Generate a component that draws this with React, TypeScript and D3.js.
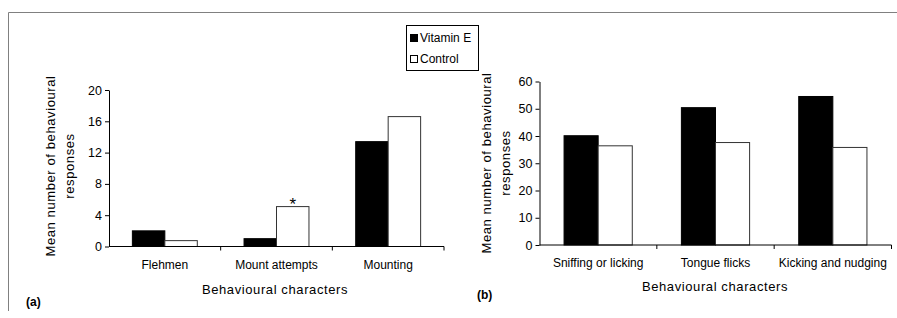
import { useEffect, useRef } from "react";
import * as d3 from "d3";

const seriesNames = ["Vitamin E", "Control"];
const categoriesA = ["Flehmen", "Mount attempts", "Mounting"];
const vitaminA = [2.0, 1.0, 13.4];
const controlA = [0.75, 5.1, 16.6];
const ticksA = [0, 4, 8, 12, 16, 20];

const categoriesB = ["Sniffing or licking", "Tongue flicks", "Kicking and nudging"];
const vitaminB = [40.1, 50.4, 54.5];
const controlB = [36.4, 37.6, 35.8];
const ticksB = [0, 10, 20, 30, 40, 50, 60];

type Panel = {
  cats: string[];
  vals: number[][];
  ticks: number[];
  x0: number;
  x1: number;
  yTop: number;
  yBottom: number;
  titleX: number;
  titleY: number;
  axisTitleX: number;
  axisTitleCy: number;
  label: string;
  labelX: number;
  labelY: number;
  catY: number;
};

const FONT = "'Liberation Sans', Arial, sans-serif";

export default function App() {
  const ref = useRef<SVGSVGElement>(null);

  useEffect(() => {
    document.body.style.margin = "0";
    const svg = d3.select(ref.current);
    svg.selectAll("*").remove();
    svg.attr("width", 897).attr("height", 318).style("background", "#fff");

    // frame (top + left)
    svg.append("path")
      .attr("d", "M8.5,311 V12.5 H897")
      .attr("fill", "none")
      .attr("stroke", "#808080")
      .attr("stroke-width", 1);

    const panels: Panel[] = [
      {
        cats: categoriesA, vals: [vitaminA, controlA], ticks: ticksA,
        x0: 109, x1: 444, yTop: 90, yBottom: 246.5,
        titleX: 275, titleY: 294, axisTitleX: 55, axisTitleCy: 166,
        label: "(a)", labelX: 26, labelY: 306, catY: 269,
      },
      {
        cats: categoriesB, vals: [vitaminB, controlB], ticks: ticksB,
        x0: 539.5, x1: 891.5, yTop: 81.5, yBottom: 245,
        titleX: 715, titleY: 291, axisTitleX: 491, axisTitleCy: 163,
        label: "(b)", labelX: 477, labelY: 299, catY: 267,
      },
    ];

    panels.forEach((p) => {
      const g = svg.append("g");
      const x = d3.scaleBand<string>().domain(p.cats).range([p.x0, p.x1]);
      const xs = d3.scaleBand<string>().domain(seriesNames).range([0, x.bandwidth()]).paddingOuter(0.72);
      const y = d3.scaleLinear().domain([0, d3.max(p.ticks)!]).range([p.yBottom, p.yTop]);

      // bars
      p.cats.forEach((c, i) => {
        seriesNames.forEach((s, j) => {
          const v = p.vals[j][i];
          g.append("rect")
            .attr("x", x(c)! + xs(s)!)
            .attr("y", y(v))
            .attr("width", xs.bandwidth())
            .attr("height", y(0) - y(v))
            .attr("fill", j === 0 ? "#000" : "#fff")
            .attr("stroke", j === 0 ? "#000" : "#333")
            .attr("stroke-width", 1);
        });
      });

      // y axis
      const yAxis = d3.axisLeft(y).tickValues(p.ticks).tickSize(4).tickSizeOuter(0).tickPadding(3);
      const ya = g.append("g").attr("transform", `translate(${p.x0},0)`).call(yAxis);
      ya.selectAll("text").style("font-family", FONT).style("font-size", "12.5px").attr("fill", "#000");
      ya.selectAll("line,path").attr("stroke", "#000");

      // x axis with ticks at band edges
      g.append("line")
        .attr("x1", p.x0).attr("x2", p.x1)
        .attr("y1", y(0)).attr("y2", y(0))
        .attr("stroke", "#000");
      const edges = p.cats.map((c) => x(c)! + x.bandwidth());
      edges.forEach((e) => {
        g.append("line")
          .attr("x1", e).attr("x2", e)
          .attr("y1", y(0)).attr("y2", y(0) + 4)
          .attr("stroke", "#000");
      });

      g.selectAll(".cat")
        .data(p.cats)
        .enter()
        .append("text")
        .attr("x", (c) => x(c)! + x.bandwidth() / 2)
        .attr("y", p.catY)
        .attr("text-anchor", "middle")
        .style("font-family", FONT)
        .style("font-size", "12px")
        .text((c) => c);

      g.append("text")
        .attr("x", p.titleX)
        .attr("y", p.titleY)
        .attr("text-anchor", "middle")
        .style("font-family", FONT)
        .style("font-size", "13px")
        .attr("letter-spacing", "0.6px")
        .text("Behavioural characters");

      const at = g.append("text")
        .attr("transform", `translate(${p.axisTitleX},${p.axisTitleCy}) rotate(-90)`)
        .attr("text-anchor", "middle")
        .style("font-family", FONT)
        .style("font-size", "13px")
        .attr("letter-spacing", "0.6px");
      at.append("tspan").attr("x", 0).attr("dy", 0).text("Mean number of behavioural");
      at.append("tspan").attr("x", 0).attr("dy", 19).text("responses");

      g.append("text")
        .attr("x", p.labelX)
        .attr("y", p.labelY)
        .style("font-family", FONT)
        .style("font-size", "12px")
        .style("font-weight", "bold")
        .text(p.label);
    });

    // asterisk over Mount attempts control
    {
      const x = d3.scaleBand<string>().domain(categoriesA).range([109, 444]);
      const xs = d3.scaleBand<string>().domain(seriesNames).range([0, x.bandwidth()]).paddingOuter(0.72);
      const y = d3.scaleLinear().domain([0, 20]).range([246.5, 90]);
      svg.append("text")
        .attr("x", x("Mount attempts")! + xs("Control")! + xs.bandwidth() / 2)
        .attr("y", y(controlA[1]) + 3)
        .attr("text-anchor", "middle")
        .style("font-family", FONT)
        .style("font-size", "17px")
        .text("*");
    }

    // legend
    const lg = svg.append("g").attr("transform", "translate(406,25)");
    lg.append("rect")
      .attr("x", 0.5).attr("y", 0.5)
      .attr("width", 72).attr("height", 45)
      .attr("fill", "#fff")
      .attr("stroke", "#000");
    seriesNames.forEach((s, i) => {
      const cy = 13 + i * 21;
      lg.append("rect")
        .attr("x", 4.5).attr("y", cy - 3.5)
        .attr("width", 7).attr("height", 7)
        .attr("fill", i === 0 ? "#000" : "#fff")
        .attr("stroke", "#000");
      lg.append("text")
        .attr("x", 14)
        .attr("y", cy + 4)
        .style("font-family", FONT)
        .style("font-size", "12px")
        .text(s);
    });
  }, []);

  return <svg ref={ref} style={{ display: "block" }}></svg>;
}
